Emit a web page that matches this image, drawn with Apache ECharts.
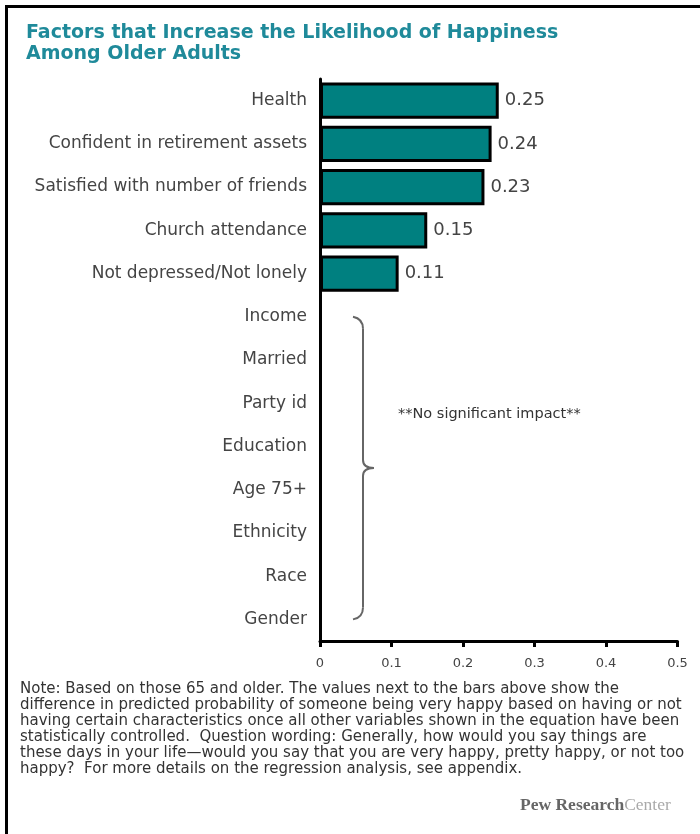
<!DOCTYPE html>
<html>
<head>
<meta charset="utf-8">
<script src="https://cdn.jsdelivr.net/npm/echarts@6/dist/echarts.min.js"></script>
<style>
html,body{margin:0;padding:0;background:#fff;}
#c{width:700px;height:834px;}
</style>
</head>
<body>
<div id="c"></div>
<script>
const categories = ['Health','Confident in retirement assets','Satisfied with number of friends','Church attendance','Not depressed/Not lonely','Income','Married','Party id','Education','Age 75+','Ethnicity','Race','Gender'];
const values = [0.25, 0.24, 0.23, 0.15, 0.11, null, null, null, null, null, null, null, null];
const xTicks = [0, 0.1, 0.2, 0.3, 0.4, 0.5];
const titleText = 'Factors that Increase the Likelihood of Happiness\nAmong Older Adults';
const noImpactText = '**No significant impact**';
const noteText = 'Note: Based on those 65 and older. The values next to the bars above show the\ndifference in predicted probability of someone being very happy based on having or not\nhaving certain characteristics once all other variables shown in the equation have been\nstatistically controlled.  Question wording: Generally, how would you say things are\nthese days in your life\u2014would you say that you are very happy, pretty happy, or not too\nhappy?  For more details on the regression analysis, see appendix.';

const FONT = 'DejaVu Sans';
const chart = echarts.init(document.getElementById('c'));
const option = {
  backgroundColor: '#fff',
  animation: false,
  title: {
    text: titleText,
    left: 21, top: 18,
    textStyle: {fontFamily: FONT, fontSize: 19, fontWeight: 'bold', color: '#1f8a9a', lineHeight: 21}
  },
  grid: {left: 320, top: 79, width: 357.5, height: 562, containLabel: false},
  xAxis: {
    type: 'value', min: xTicks[0], max: xTicks[xTicks.length-1], interval: 0.1,
    axisLine: {show: true, lineStyle: {color: '#000', width: 3}},
    axisTick: {show: true, length: 6, lineStyle: {color: '#000', width: 3}},
    axisLabel: {fontFamily: FONT, fontSize: 13, color: '#444', margin: 16,
      formatter: v => String(Math.round(v*10)/10)},
    splitLine: {show: false}
  },
  yAxis: {
    type: 'category', data: categories, inverse: true,
    axisLine: {show: true, lineStyle: {color: '#000', width: 3}},
    axisTick: {show: false},
    axisLabel: {fontFamily: FONT, fontSize: 17, color: '#444', margin: 13}
  },
  series: [{
    type: 'bar', data: values, barCategoryGap: '16%',
    itemStyle: {color: '#008080', borderColor: '#000', borderWidth: 3},
    label: {show: true, position: 'right', distance: 6, fontFamily: FONT, fontSize: 18, color: '#444',
      formatter: p => p.value == null ? '' : p.value.toFixed(2)}
  }]
};
chart.setOption(option);

const yTop = chart.convertToPixel({yAxisIndex: 0}, categories[5]);
const yBot = chart.convertToPixel({yAxisIndex: 0}, categories[12]);
const yMid = (yTop + yBot) / 2;
const bx = 363;
const braceStyle = {stroke: '#666', lineWidth: 2, fill: null};
const brace = [
  {type: 'bezierCurve', shape: {x1: bx-10, y1: yTop, cpx1: bx, cpy1: yTop+2, x2: bx, y2: yTop+12}, style: braceStyle},
  {type: 'line', shape: {x1: bx, y1: yTop+12, x2: bx, y2: yMid-8}, style: braceStyle},
  {type: 'bezierCurve', shape: {x1: bx, y1: yMid-8, cpx1: bx, cpy1: yMid, x2: bx+11, y2: yMid}, style: braceStyle},
  {type: 'bezierCurve', shape: {x1: bx+11, y1: yMid, cpx1: bx, cpy1: yMid, x2: bx, y2: yMid+8}, style: braceStyle},
  {type: 'line', shape: {x1: bx, y1: yMid+8, x2: bx, y2: yBot-12}, style: braceStyle},
  {type: 'bezierCurve', shape: {x1: bx, y1: yBot-12, cpx1: bx, cpy1: yBot-2, x2: bx-10, y2: yBot}, style: braceStyle}
];

chart.setOption({
  graphic: [
    {type: 'rect', shape: {x: 5, y: 5, width: 695, height: 3}, style: {fill: '#000'}, silent: true},
    {type: 'rect', shape: {x: 5, y: 5, width: 3, height: 829}, style: {fill: '#000'}, silent: true},
    ...brace,
    {type: 'text', x: 398, y: yMid - 54, style: {text: noImpactText, fontFamily: FONT, fontSize: 14.5, fill: '#333', textVerticalAlign: 'middle'}},
    {type: 'text', x: 20, y: 681, style: {text: noteText, fontFamily: FONT, fontSize: 15, lineHeight: 16, fill: '#333'}},
    {type: 'text', x: 520, y: 796, style: {
      text: '{a|Pew Research}{b|Center}',
      rich: {a: {fontFamily: 'Liberation Serif', fontSize: 17.5, fill: '#666', fontWeight: 'bold'},
             b: {fontFamily: 'Liberation Serif', fontSize: 17.5, fill: '#aaa'}}
    }}
  ]
});
</script>
</body>
</html>
